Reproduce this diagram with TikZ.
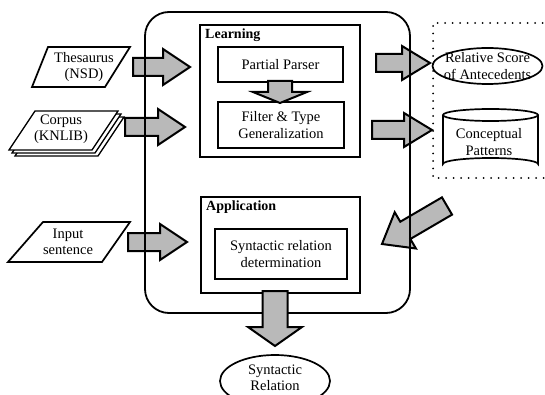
\documentclass[tikz,border=0pt]{standalone}
\usepackage{fontspec}
\setmainfont{Liberation Serif}
\usetikzlibrary{calc,shapes.geometric}
\tikzset{
  fatarr/.style={draw=black, line width=2pt, fill=gray!55, line join=miter},
  boxline/.style={draw, line width=1.7pt},
  txt/.style={align=center, font=\fontsize{14.5}{16.5}\selectfont, inner sep=0pt},
  lbl/.style={anchor=north west, font=\bfseries\fontsize{14}{16}\selectfont, inner sep=0pt},
  dotline/.style={line width=2pt, dash pattern=on 0pt off 7.5pt, line cap=round},
}
\newcommand\fatarrow[5]{%
  \coordinate (fac) at ($(#2)!#5!(#1)$);
  \draw[fatarr] ($(#1)!#3!90:(#2)$) -- ($(fac)!#3!-90:(#1)$) -- ($(fac)!#4!-90:(#1)$)
     -- (#2) -- ($(fac)!#4!90:(#1)$) -- ($(fac)!#3!90:(#1)$) -- ($(#1)!#3!-90:(#2)$) -- cycle;}
\begin{document}
\begin{tikzpicture}[x=1pt,y=-1pt]
\useasboundingbox (0,0) rectangle (545,395);
\clip (0,0) rectangle (545,395);

% input shapes
\draw[boxline, fill=white] (48,47) -- (130,47) -- (105,87) -- (32,87) -- cycle;
\node[txt] (thes) at (84,67) {Thesaurus\\(NSD)};
\foreach \d in {6,3,0}{
  \draw[boxline, line width=1.3pt, fill=white] (35+\d,111+\d) -- (118+\d,111+\d) -- (92+\d,150+\d) -- (9+\d,150+\d) -- cycle;}
\node[txt] (corp) at (61,129) {Corpus\\(KNLIB)};
\draw[boxline, fill=white] (43,222) -- (130,222) -- (102,262) -- (8,262) -- cycle;
\node[txt] (inp) at (68,242) {Input\\sentence};

% arrows into main box
\coordinate (a1s) at (133,67);  \coordinate (a1e) at (190,67);
\coordinate (a2s) at (125,127); \coordinate (a2e) at (185,127);
\coordinate (a3s) at (128,242); \coordinate (a3e) at (187,242);
\fatarrow{a1s}{a1e}{9pt}{18pt}{27pt}
\fatarrow{a2s}{a2e}{9pt}{18pt}{27pt}
\fatarrow{a3s}{a3e}{9pt}{18pt}{27pt}

% arrows out of main box
\coordinate (r1s) at (376,63);  \coordinate (r1e) at (430,63);
\coordinate (r2s) at (372,130); \coordinate (r2e) at (432,130);
\coordinate (dgs) at (447,206); \coordinate (dge) at (382,244);
\fatarrow{r1s}{r1e}{9pt}{17pt}{28pt}
\fatarrow{r2s}{r2e}{9pt}{17pt}{28pt}
\fatarrow{dgs}{dge}{10pt}{21pt}{27pt}

% main rounded box
\node[draw, line width=1.8pt, rounded corners=24pt, minimum width=265pt, minimum height=301pt, inner sep=0pt] (main) at (277.5,162.5) {};

% learning block
\node[boxline, fill=white, minimum width=160pt, minimum height=132pt, inner sep=0pt] (learn) at (280,91) {};
\node[lbl] (learnl) at (205,29) {Learning};
\node[boxline, fill=white, minimum width=125pt, minimum height=35pt, txt] (pp) at (280.5,64.5) {Partial Parser};
\node[boxline, fill=white, minimum width=126pt, minimum height=46pt, txt] (filt) at (281,125) {Filter \& Type\\Generalization};
\coordinate (sds) at (280,81); \coordinate (sde) at (280,103);
\fatarrow{sds}{sde}{12pt}{27pt}{11pt}

% application block
\node[boxline, fill=white, minimum width=159pt, minimum height=96pt, inner sep=0pt] (app) at (280.5,245) {};
\node[lbl] (appl) at (206,201) {Application};
\node[boxline, fill=white, minimum width=132pt, minimum height=50pt, txt] (syn) at (281,254) {Syntactic relation\\determination};

% output
\coordinate (bds) at (275,291); \coordinate (bde) at (275,346);
\fatarrow{bds}{bde}{12.5pt}{27pt}{19pt}
\node[ellipse, boxline, minimum width=110pt, minimum height=52pt, inner sep=0pt] (srel) at (275,381) {};
\node[txt] (srelt) at (275,378) {Syntactic\\Relation};

% knowledge (dotted region)
\draw[dotline] (550,23) -- (433,23) -- (433,178) -- (550,178);
\node[ellipse, boxline, minimum width=110pt, minimum height=36pt, inner sep=0pt] (rel) at (487.5,66) {};
\node[txt] (relt) at (487.5,66) {Relative Score\\of Antecedents};
\draw[boxline] (443,115) -- (443,164) arc[start angle=180, end angle=360, x radius=47.5, y radius=6] -- (538,115);
\draw[boxline] (490.5,115) ellipse [x radius=47.5, y radius=6];
\node[txt] (cpt) at (489,142) {Conceptual\\Patterns};
\end{tikzpicture}
\end{document}
